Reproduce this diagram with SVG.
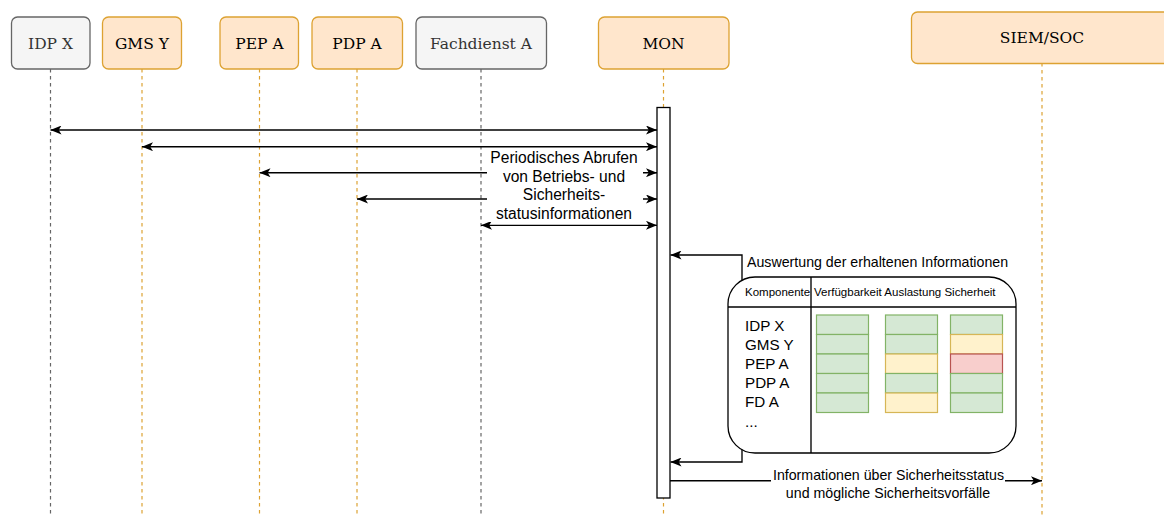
<svg xmlns="http://www.w3.org/2000/svg" width="1164" height="516" viewBox="0 0 1164 516">
<defs>
<marker id="arr" viewBox="0 0 11 9" markerWidth="11" markerHeight="9" refX="11" refY="4.5" orient="auto-start-reverse" markerUnits="userSpaceOnUse">
<path d="M0,0 L11,4.5 L0,9 L2.8,4.5 Z" fill="#000"/>
</marker>
<style>
.gray{fill:#f5f5f5;stroke:#666;stroke-width:1.3}
.orng{fill:#ffe6cc;stroke:#dda232;stroke-width:1.3}
.nt{font-family:"DejaVu Serif",serif;font-size:15.5px;text-anchor:middle}
.ntg{fill:#333}
.ntb{fill:#000}
.llg{stroke:#666;stroke-width:1.2;stroke-dasharray:3.5 3.5;fill:none}
.llo{stroke:#dda232;stroke-width:1.2;stroke-dasharray:3.5 3.5;fill:none}
.c{stroke:#000;stroke-width:1.35;fill:none}
.t{font-family:"Liberation Sans",Arial,sans-serif;fill:#000}
.g{fill:#d5e8d4;stroke:#82b366;stroke-width:1.2}
.y{fill:#fff2cc;stroke:#d6b656;stroke-width:1.2}
.r{fill:#f8cecc;stroke:#b85450;stroke-width:1.2}
</style>
</defs>
<rect width="1164" height="516" fill="#fff"/>
<g id="lifelines">
<line class="llg" x1="50.5" y1="69" x2="50.5" y2="516"/>
<line class="llo" x1="142" y1="69" x2="142" y2="516"/>
<line class="llo" x1="259.5" y1="69" x2="259.5" y2="516"/>
<line class="llo" x1="357" y1="69" x2="357" y2="516"/>
<line class="llg" x1="481" y1="69" x2="481" y2="516"/>
<line class="llo" x1="663.5" y1="69" x2="663.5" y2="516"/>
<line class="llo" x1="1042" y1="63" x2="1042" y2="516"/>
</g>
<g id="idp-x"><rect class="gray" x="11.5" y="17" width="78.5" height="52" rx="6"/><text class="nt ntg" x="50.5" y="48.5">IDP X</text></g>
<g id="gms-y"><rect class="orng" x="102.5" y="17" width="79" height="52" rx="6"/><text class="nt ntb" x="142" y="48.5">GMS Y</text></g>
<g id="pep-a"><rect class="orng" x="220" y="17" width="78.5" height="52" rx="6"/><text class="nt ntb" x="259.5" y="48.5">PEP A</text></g>
<g id="pdp-a"><rect class="orng" x="312" y="17" width="90.5" height="52" rx="6"/><text class="nt ntb" x="357" y="48.5">PDP A</text></g>
<g id="fachdienst-a"><rect class="gray" x="416" y="17" width="130.5" height="52" rx="6"/><text class="nt ntg" x="481" y="48.5">Fachdienst A</text></g>
<g id="mon"><rect class="orng" x="598.5" y="17" width="130.5" height="52" rx="6"/><text class="nt ntb" x="663.5" y="48.5">MON</text></g>
<g id="siem-soc"><rect class="orng" x="911.5" y="12" width="262" height="51.5" rx="6"/><text class="nt ntb" x="1042" y="43">SIEM/SOC</text></g>
<g id="mon-activation"><rect x="657" y="107.5" width="13" height="390.5" fill="#fff" stroke="#000" stroke-width="1.3"/></g>
<g id="connectors">
<line class="c" x1="50.5" y1="130" x2="657" y2="130" marker-start="url(#arr)" marker-end="url(#arr)"/>
<line class="c" x1="142" y1="146.7" x2="657" y2="146.7" marker-start="url(#arr)" marker-end="url(#arr)"/>
<line class="c" x1="259.5" y1="172.7" x2="657" y2="172.7" marker-start="url(#arr)" marker-end="url(#arr)"/>
<line class="c" x1="357" y1="199" x2="657" y2="199" marker-start="url(#arr)" marker-end="url(#arr)"/>
<line class="c" x1="481" y1="225.3" x2="657" y2="225.3" marker-start="url(#arr)" marker-end="url(#arr)"/>
<rect x="487" y="150" width="156" height="72" fill="#fff"/>
<text class="t" font-size="15.6" text-anchor="middle"><tspan x="564" y="162.8">Periodisches Abrufen</tspan><tspan x="564" y="181.6">von Betriebs- und</tspan><tspan x="564" y="200.4">Sicherheits-</tspan><tspan x="564" y="219">statusinformationen</tspan></text>
<polyline class="c" points="742,281 742,255 670.5,255" marker-end="url(#arr)"/>
<text class="t" font-size="14.2" x="747" y="267">Auswertung der erhaltenen Informationen</text>
<polyline class="c" points="742,449 742,462 670.5,462" marker-end="url(#arr)"/>
<line class="c" x1="670" y1="480.7" x2="1042" y2="480.7" marker-end="url(#arr)"/>
<rect x="771" y="466" width="234" height="36" fill="#fff"/>
<text class="t" font-size="14.2" text-anchor="middle"><tspan x="888.5" y="480">Informationen über Sicherheitsstatus</tspan><tspan x="888" y="497.5">und mögliche Sicherheitsvorfälle</tspan></text>
</g>
<g id="status-table">
<rect x="728" y="277" width="288" height="176" rx="27" fill="#fff" stroke="#000" stroke-width="1.3"/>
<line class="c" x1="728" y1="307" x2="1016" y2="307"/>
<line class="c" x1="811" y1="277" x2="811" y2="453"/>
<text class="t" font-size="11.5" x="745" y="296">Komponente</text>
<text class="t" font-size="11.5" x="814" y="296">Verfügbarkeit Auslastung Sicherheit</text>
<text class="t" font-size="15.2"><tspan x="745" y="330.5">IDP X</tspan><tspan x="745" y="349.7">GMS Y</tspan><tspan x="745" y="368.9">PEP A</tspan><tspan x="745" y="388.1">PDP A</tspan><tspan x="745" y="407.3">FD A</tspan><tspan x="745" y="426.5">...</tspan></text>
<rect class="g" x="816.5" y="315" width="52" height="19.5"/>
<rect class="g" x="816.5" y="334.5" width="52" height="19.5"/>
<rect class="g" x="816.5" y="354" width="52" height="19.5"/>
<rect class="g" x="816.5" y="373.5" width="52" height="19.5"/>
<rect class="g" x="816.5" y="393" width="52" height="19.5"/>
<rect class="g" x="885.5" y="315" width="52" height="19.5"/>
<rect class="g" x="885.5" y="334.5" width="52" height="19.5"/>
<rect class="y" x="885.5" y="354" width="52" height="19.5"/>
<rect class="g" x="885.5" y="373.5" width="52" height="19.5"/>
<rect class="y" x="885.5" y="393" width="52" height="19.5"/>
<rect class="g" x="950.5" y="315" width="52" height="19.5"/>
<rect class="y" x="950.5" y="334.5" width="52" height="19.5"/>
<rect class="r" x="950.5" y="354" width="52" height="19.5"/>
<rect class="g" x="950.5" y="373.5" width="52" height="19.5"/>
<rect class="g" x="950.5" y="393" width="52" height="19.5"/>
</g>
</svg>
